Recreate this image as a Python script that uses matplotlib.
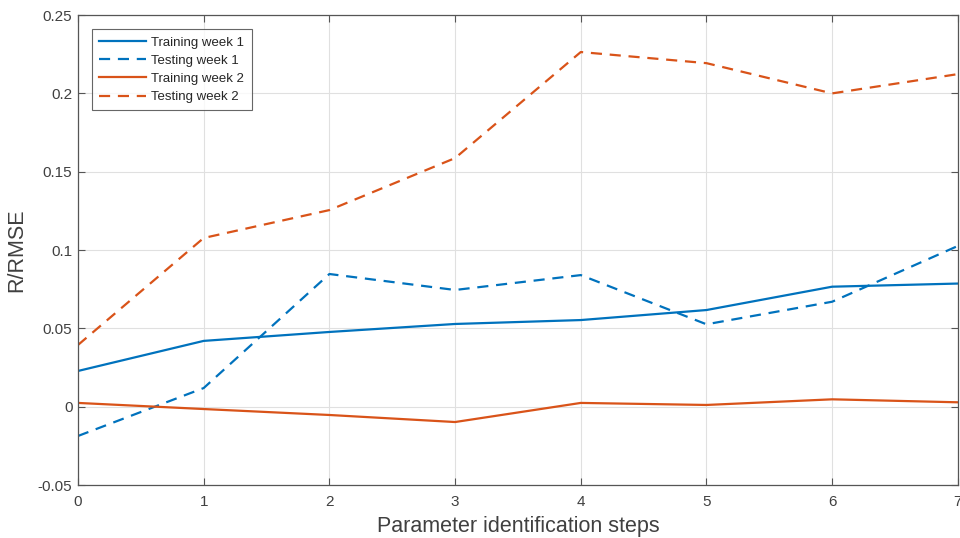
import matplotlib
matplotlib.use("Agg")
import matplotlib.pyplot as plt

steps = [0, 1, 2, 3, 4, 5, 6, 7]
train_w1 = [0.0228, 0.0420, 0.0477, 0.0528, 0.0553, 0.0617, 0.0766, 0.0786]
test_w1 = [-0.0187, 0.0119, 0.0847, 0.0745, 0.0840, 0.0526, 0.0670, 0.1026]
train_w2 = [0.0024, -0.0015, -0.0053, -0.0098, 0.0024, 0.0011, 0.0047, 0.0028]
test_w2 = [0.0394, 0.1077, 0.1255, 0.1587, 0.2264, 0.2193, 0.2000, 0.2123]

xticks = [0, 1, 2, 3, 4, 5, 6, 7]
yticks = [-0.05, 0, 0.05, 0.1, 0.15, 0.2, 0.25]
yticklabels = ["-0.05", "0", "0.05", "0.1", "0.15", "0.2", "0.25"]

plt.rcParams['font.family'] = ['Liberation Sans', 'DejaVu Sans']

blue = '#0072BD'
orange = '#D95319'
txt = '#404040'

fig = plt.figure(figsize=(9.6, 5.38), dpi=100)
ax = fig.add_axes([0.08125, 0.0985, 0.9165, 0.8735])

dash = (0, (5, 3.5))
ax.plot(steps, train_w1, color=blue, lw=1.6, ls='-', label='Training week 1')
ax.plot(steps, test_w1, color=blue, lw=1.6, ls=dash, label='Testing week 1')
ax.plot(steps, train_w2, color=orange, lw=1.6, ls='-', label='Training week 2')
ax.plot(steps, test_w2, color=orange, lw=1.6, ls=dash, label='Testing week 2')

ax.set_xlim(0, 7)
ax.set_ylim(-0.05, 0.25)
ax.set_xticks(xticks)
ax.set_yticks(yticks)
ax.set_yticklabels(yticklabels)
ax.grid(True, color='#e0e0e0', lw=0.8)
ax.set_axisbelow(True)
ax.tick_params(direction='in', top=True, right=True, labelsize=11, colors='#555555',
               labelcolor=txt, length=5)
ax.tick_params(axis='x', pad=7)
ax.tick_params(axis='y', pad=4)
for s in ax.spines.values():
    s.set_color('#555555')
    s.set_linewidth(0.9)

ax.set_xlabel('Parameter identification steps', fontsize=15.5, color=txt, labelpad=5)
ax.set_ylabel('R/RMSE', fontsize=15.5, color=txt, labelpad=7.5)

leg = ax.legend(loc='upper left', bbox_to_anchor=(0.016, 0.970), borderaxespad=0, fontsize=9.5,
                frameon=True, fancybox=False, edgecolor='#404040',
                handlelength=3.5, handletextpad=0.45, borderpad=0.55, labelspacing=0.45)
leg.get_frame().set_linewidth(0.8)
for t in leg.get_texts():
    t.set_color('#262626')

fig.savefig('out.png', dpi=100)
